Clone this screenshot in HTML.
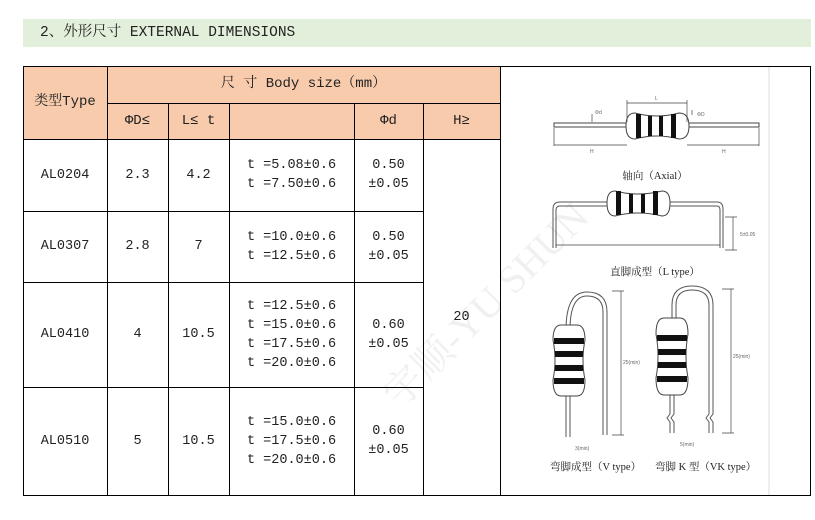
<!DOCTYPE html>
<html><head><meta charset="utf-8"><style>
body{margin:0;width:815px;height:520px;background:#fff;position:relative;overflow:hidden;font-family:"Liberation Mono","Noto Serif CJK SC",monospace;color:#222}
.a{position:absolute}
.bar{left:23px;top:19px;width:788px;height:28px;background:#e2efda;font-size:14.5px;line-height:29px;text-indent:17px}
.c{position:absolute;box-sizing:border-box;display:flex;align-items:center;justify-content:center;text-align:center;font-size:13.5px;line-height:19px}
.h{background:#f8cbad}
.ln{position:absolute;background:#000}
</style></head><body>
<div class="a bar">2、外形尺寸 EXTERNAL DIMENSIONS</div>

<div class="c h" style="left:23px;top:66px;width:84px;height:73px;font-size:14px">类型Type</div>
<div class="c h" style="left:107px;top:66px;width:393px;height:37px;font-size:14px">尺 寸 Body size（mm）</div>
<div class="c h" style="left:107px;top:103px;width:61px;height:36px;font-size:14px">ΦD≤</div>
<div class="c h" style="left:168px;top:103px;width:61px;height:36px;font-size:14px">L≤ t</div>
<div class="c h" style="left:229px;top:103px;width:125px;height:36px"></div>
<div class="c h" style="left:354px;top:103px;width:69px;height:36px;font-size:14px">Φd</div>
<div class="c h" style="left:423px;top:103px;width:77px;height:36px;font-size:14px">H≥</div>

<div class="c" style="left:23px;top:139px;width:84px;height:72px">AL0204</div>
<div class="c" style="left:107px;top:139px;width:61px;height:72px">2.3</div>
<div class="c" style="left:168px;top:139px;width:61px;height:72px">4.2</div>
<div class="c" style="left:229px;top:139px;width:125px;height:72px">t =5.08±0.6<br>t =7.50±0.6</div>
<div class="c" style="left:354px;top:139px;width:69px;height:72px">0.50<br>±0.05</div>

<div class="c" style="left:23px;top:211px;width:84px;height:71px">AL0307</div>
<div class="c" style="left:107px;top:211px;width:61px;height:71px">2.8</div>
<div class="c" style="left:168px;top:211px;width:61px;height:71px">7</div>
<div class="c" style="left:229px;top:211px;width:125px;height:71px">t =10.0±0.6<br>t =12.5±0.6</div>
<div class="c" style="left:354px;top:211px;width:69px;height:71px">0.50<br>±0.05</div>

<div class="c" style="left:23px;top:282px;width:84px;height:105px">AL0410</div>
<div class="c" style="left:107px;top:282px;width:61px;height:105px">4</div>
<div class="c" style="left:168px;top:282px;width:61px;height:105px">10.5</div>
<div class="c" style="left:229px;top:282px;width:125px;height:105px">t =12.5±0.6<br>t =15.0±0.6<br>t =17.5±0.6<br>t =20.0±0.6</div>
<div class="c" style="left:354px;top:282px;width:69px;height:105px">0.60<br>±0.05</div>

<div class="c" style="left:23px;top:387px;width:84px;height:108px">AL0510</div>
<div class="c" style="left:107px;top:387px;width:61px;height:108px">5</div>
<div class="c" style="left:168px;top:387px;width:61px;height:108px">10.5</div>
<div class="c" style="left:229px;top:387px;width:125px;height:108px">t =15.0±0.6<br>t =17.5±0.6<br>t =20.0±0.6</div>
<div class="c" style="left:354px;top:387px;width:69px;height:108px">0.60<br>±0.05</div>

<div class="c" style="left:423px;top:139px;width:77px;height:356px">20</div>

<div class="ln" style="left:23px;top:66px;width:788px;height:1px"></div>
<div class="ln" style="left:23px;top:495px;width:788px;height:1px"></div>
<div class="ln" style="left:23px;top:66px;width:1px;height:430px"></div>
<div class="ln" style="left:810px;top:66px;width:1px;height:430px"></div>
<div class="ln" style="left:500px;top:66px;width:1px;height:430px"></div>
<div class="ln" style="left:107px;top:66px;width:1px;height:430px"></div>
<div class="ln" style="left:168px;top:103px;width:1px;height:393px"></div>
<div class="ln" style="left:229px;top:103px;width:1px;height:393px"></div>
<div class="ln" style="left:354px;top:103px;width:1px;height:393px"></div>
<div class="ln" style="left:423px;top:103px;width:1px;height:393px"></div>
<div class="ln" style="left:107px;top:103px;width:393px;height:1px"></div>
<div class="ln" style="left:23px;top:139px;width:477px;height:1px"></div>
<div class="ln" style="left:23px;top:211px;width:400px;height:1px"></div>
<div class="ln" style="left:23px;top:282px;width:400px;height:1px"></div>
<div class="ln" style="left:23px;top:387px;width:400px;height:1px"></div>

<svg class="a" style="left:0;top:0" width="815" height="520" viewBox="0 0 815 520" fill="none" stroke="#444" stroke-width="1">
<line x1="769" y1="67" x2="769" y2="495" stroke="#ddd"/>
<rect x="554" y="123" width="205" height="4" fill="#fff"/>
<path d="M635 113 Q657 119 679 113 Q689 113 689 126 Q689 139 679 139 Q657 133 635 139 Q626 139 626 126 Q626 113 635 113Z" fill="#fff"/>
<g fill="#111" stroke="none"><rect x="636" y="114" width="5" height="24"/><rect x="648" y="116" width="4" height="20"/><rect x="659" y="116" width="4" height="20"/><rect x="671" y="114" width="5" height="24"/></g>
<path d="M627 103 H687 M627 100 V122 M687 100 V122 M554 128 V146 M759 128 V146 M554 145 H627 M687 145 H759 M592 114 V122 M692 110 V115" stroke-width="0.7"/>
<g font-family="Liberation Sans,sans-serif" font-size="5" fill="#666" stroke="none"><text x="655" y="100">L</text><text x="595" y="114">Φd</text><text x="697" y="116">ΦD</text><text x="590" y="153">H</text><text x="722" y="153">H</text></g>
<text x="655" y="179" text-anchor="middle" font-family="Liberation Serif,'Noto Serif CJK SC',serif" font-size="10.5" fill="#222" stroke="none">轴向（Axial）</text>
<path d="M553 248 V209 Q553 202 560 202 H717 Q723 202 723 209 V248 M556 248 V210 Q556 206 560 206 H717 Q720 206 720 210 V248" stroke="#555"/>
<path d="M615 191 Q638 197 662 191 Q670 191 670 203 Q670 216 662 216 Q638 210 615 216 Q607 216 607 203 Q607 191 615 191Z" fill="#fff"/>
<g fill="#111" stroke="none"><rect x="616" y="191" width="5" height="24"/><rect x="629" y="194" width="4" height="19"/><rect x="641" y="194" width="4" height="19"/><rect x="653" y="191" width="5" height="24"/></g>
<path d="M556 245 H720 M733 217 V250 M725 217 H737 M725 250 H737" stroke-width="0.7"/>
<text x="740" y="236" font-family="Liberation Sans,sans-serif" font-size="5" fill="#666" stroke="none">5±0.05</text>
<text x="655" y="275" text-anchor="middle" font-family="Liberation Serif,'Noto Serif CJK SC',serif" font-size="10.5" fill="#222" stroke="none">直脚成型（L type）</text>
<path d="M566 437 V330 Q566 292 587 292 Q607 292 607 312 V435 M570 437 V330 Q570 296 587 296 Q603 296 603 312 V435" stroke="#555"/>
<path d="M561 325 H577 Q585 325 585 340 Q581 360 585 380 Q585 396 577 396 H561 Q553 396 553 380 Q557 360 553 340 Q553 325 561 325Z" fill="#fff"/>
<g fill="#111" stroke="none"><rect x="554" y="338" width="30" height="6"/><rect x="555" y="351" width="28" height="6"/><rect x="555" y="365" width="28" height="6"/><rect x="554" y="378" width="30" height="6"/></g>
<path d="M621 291 V435 M612 291 H624 M612 435 H624" stroke-width="0.7"/>
<text x="623" y="364" font-family="Liberation Sans,sans-serif" font-size="5" fill="#666" stroke="none">25(min)</text>
<text x="575" y="450" font-family="Liberation Sans,sans-serif" font-size="5" fill="#666" stroke="none">3(min)</text>
<path d="M670 395 V414 L667 418 L670 422 V433 M674 395 V414 L671 418 L674 422 V433 M672 318 V305 Q672 286 692 286 Q713 286 713 305 V414 L710 418 L713 422 V433 M676 318 V305 Q676 290 692 290 Q709 290 709 305 V414 L706 418 L709 422 V433" stroke="#555"/>
<path d="M664 318 H680 Q688 318 688 334 Q684 356 688 378 Q688 395 680 395 H664 Q656 395 656 378 Q660 356 656 334 Q656 318 664 318Z" fill="#fff"/>
<g fill="#111" stroke="none"><rect x="657" y="335" width="30" height="6"/><rect x="658" y="349" width="28" height="6"/><rect x="658" y="362" width="28" height="6"/><rect x="657" y="376" width="30" height="6"/></g>
<path d="M731 289 V433 M722 289 H734 M722 433 H734" stroke-width="0.7"/>
<text x="733" y="358" font-family="Liberation Sans,sans-serif" font-size="5" fill="#666" stroke="none">25(min)</text>
<text x="680" y="446" font-family="Liberation Sans,sans-serif" font-size="5" fill="#666" stroke="none">5(min)</text>
<g font-family="Liberation Serif,'Noto Serif CJK SC',serif" font-size="10.5" fill="#222" stroke="none"><text x="550" y="470">弯脚成型（V type）</text><text x="655" y="470">弯脚 K 型（VK type）</text></g>
<text x="400" y="410" transform="rotate(-45 400 410)" font-family="Liberation Serif,'Noto Serif CJK SC',serif" font-size="40" fill="#000" fill-opacity="0.06" stroke="none">宇顺-YU SHUN</text>
</svg>
</body></html>
